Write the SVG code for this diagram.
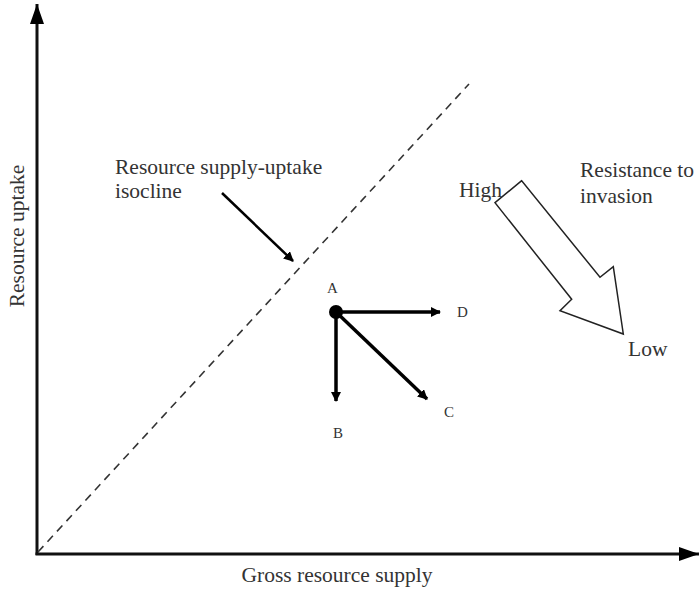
<svg xmlns="http://www.w3.org/2000/svg" width="699" height="590" viewBox="0 0 699 590">
<style>
text{font-family:"Liberation Serif","Times New Roman",serif;fill:#333}
.lbl{font-size:21.5px}
.pt{font-size:15px}
.ax{stroke:#111;stroke-width:3;fill:none}
.vec{stroke:#000;stroke-width:3.5;fill:none}
</style>
<defs>
<marker id="ah" markerWidth="10" markerHeight="10" refX="9" refY="5" orient="auto" markerUnits="userSpaceOnUse">
<path d="M0,0 L10,5 L0,10 Z" fill="#000"/>
</marker>
<marker id="axh" markerWidth="20" markerHeight="14" refX="20" refY="7" orient="auto" markerUnits="userSpaceOnUse">
<path d="M0,0 L20,7 L0,14 Z" fill="#000"/>
</marker>
</defs>
<g id="connectors">
<line class="ax" x1="37" y1="555" x2="37" y2="4" marker-end="url(#axh)"/>
<line class="ax" x1="35.5" y1="554" x2="699" y2="554" marker-end="url(#axh)"/>
<line x1="38" y1="552" x2="469" y2="84" stroke="#333" stroke-width="1.6" stroke-dasharray="8,6"/>
<line x1="222" y1="193" x2="293" y2="261" stroke="#000" stroke-width="2.5" marker-end="url(#ah)"/>
<line class="vec" x1="336" y1="312" x2="440" y2="312" marker-end="url(#ah)"/>
<line class="vec" x1="336" y1="312" x2="336" y2="401" marker-end="url(#ah)"/>
<line class="vec" x1="336" y1="312" x2="427" y2="399" marker-end="url(#ah)"/>
</g>
<g id="pointA">
<circle cx="336" cy="312" r="7" fill="#000"/>
<text class="pt" x="327" y="293">A</text>
</g>
<g id="pointB"><text class="pt" x="333" y="438">B</text></g>
<g id="pointC"><text class="pt" x="444" y="417">C</text></g>
<g id="pointD"><text class="pt" x="457" y="317">D</text></g>
<g id="isocline-label">
<text class="lbl" x="115" y="174">Resource supply-uptake</text>
<text class="lbl" x="115" y="198">isocline</text>
</g>
<g id="resistance">
<polygon points="521.7,180.7 495,202.7 571.7,299.3 560,310.7 623.3,334 613.3,266.7 600,277.3" fill="#fff" stroke="#222" stroke-width="1.5" stroke-linejoin="miter"/>
<text class="lbl" x="459" y="197">High</text>
<text class="lbl" x="580" y="177">Resistance to</text>
<text class="lbl" x="580" y="203">invasion</text>
<text class="lbl" x="628" y="356">Low</text>
</g>
<g id="axis-labels">
<text class="lbl" x="337" y="582" text-anchor="middle">Gross resource supply</text>
<text class="lbl" transform="translate(24,236) rotate(-90)" text-anchor="middle">Resource uptake</text>
</g>
</svg>
